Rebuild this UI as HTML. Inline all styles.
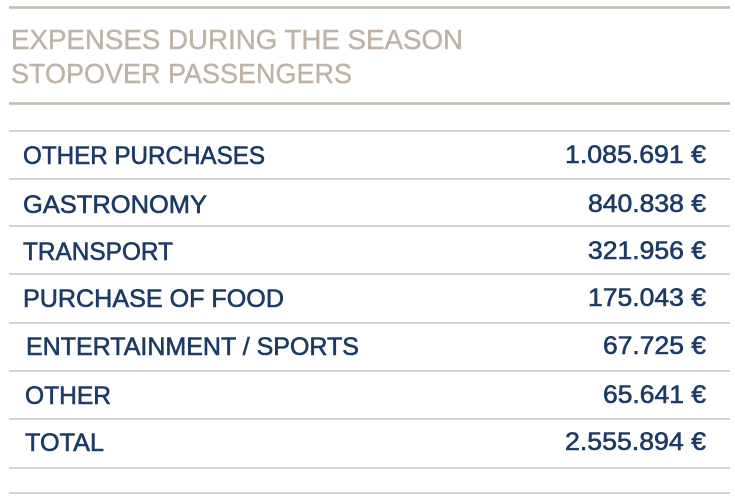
<!DOCTYPE html>
<html><head><meta charset="utf-8"><style>
html,body{margin:0;padding:0;background:#fff;}
svg{display:block}
text{font-family:"Liberation Sans",sans-serif;}
.l{fill:#1c3a66;stroke:#1c3a66;stroke-width:0.6;font-size:25px;}
.v{fill:#1c3a66;stroke:#1c3a66;stroke-width:0.6;font-size:25px;text-anchor:end;}
</style></head><body>
<svg width="735" height="501" viewBox="0 0 735 501">
<g stroke="#c2b8ad">
<line x1="9" y1="7.5" x2="730" y2="7.5" stroke-width="2.5"/>
<line x1="9" y1="103.5" x2="730" y2="103.5" stroke-width="2.5"/>
<line x1="9" y1="131" x2="730" y2="131" stroke-width="1.3"/>
<line x1="9" y1="179" x2="730" y2="179" stroke-width="1.3"/>
<line x1="9" y1="226" x2="730" y2="226" stroke-width="1.3"/>
<line x1="9" y1="274" x2="730" y2="274" stroke-width="1.3"/>
<line x1="9" y1="323" x2="730" y2="323" stroke-width="1.3"/>
<line x1="9" y1="371" x2="730" y2="371" stroke-width="1.3"/>
<line x1="9" y1="419" x2="730" y2="419" stroke-width="1.3"/>
<line x1="9" y1="468" x2="730" y2="468" stroke-width="1.3"/>
<line x1="9" y1="493" x2="730" y2="493" stroke-width="1.3"/>
</g>
<g fill="#bfb3a5" stroke="#bfb3a5" stroke-width="0.4" font-size="28">
<text x="11" y="49" textLength="452" lengthAdjust="spacingAndGlyphs">EXPENSES DURING THE SEASON</text>
<text x="11" y="83" textLength="341" lengthAdjust="spacingAndGlyphs">STOPOVER PASSENGERS</text>
</g>
<text class="l" x="23" y="164" textLength="242" lengthAdjust="spacingAndGlyphs">OTHER PURCHASES</text>
<text class="l" x="23" y="213" textLength="184" lengthAdjust="spacingAndGlyphs">GASTRONOMY</text>
<text class="l" x="23" y="260" textLength="150" lengthAdjust="spacingAndGlyphs">TRANSPORT</text>
<text class="l" x="23" y="307" textLength="261" lengthAdjust="spacingAndGlyphs">PURCHASE OF FOOD</text>
<text class="l" x="26" y="355" textLength="333" lengthAdjust="spacingAndGlyphs">ENTERTAINMENT / SPORTS</text>
<text class="l" x="25" y="404" textLength="86" lengthAdjust="spacingAndGlyphs">OTHER</text>
<text class="l" x="25" y="451" textLength="79" lengthAdjust="spacingAndGlyphs">TOTAL</text>
<text class="v" x="706" y="163" textLength="141" lengthAdjust="spacingAndGlyphs">1.085.691 €</text>
<text class="v" x="706" y="212" textLength="118" lengthAdjust="spacingAndGlyphs">840.838 €</text>
<text class="v" x="706" y="259" textLength="118" lengthAdjust="spacingAndGlyphs">321.956 €</text>
<text class="v" x="706" y="306" textLength="118" lengthAdjust="spacingAndGlyphs">175.043 €</text>
<text class="v" x="706" y="354" textLength="103" lengthAdjust="spacingAndGlyphs">67.725 €</text>
<text class="v" x="706" y="403" textLength="103" lengthAdjust="spacingAndGlyphs">65.641 €</text>
<text class="v" x="706" y="450" textLength="141" lengthAdjust="spacingAndGlyphs">2.555.894 €</text>
</svg>
</body></html>
